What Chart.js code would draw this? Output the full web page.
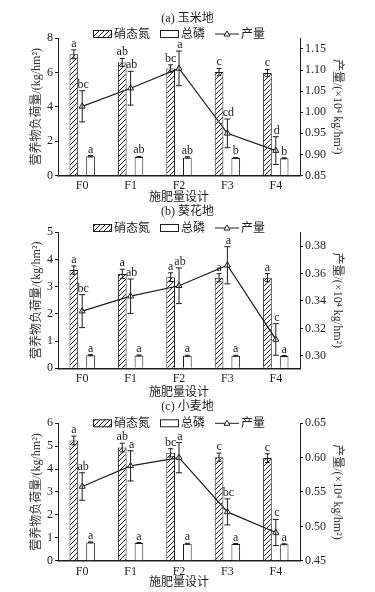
<!DOCTYPE html>
<html><head><meta charset="utf-8">
<script src="https://cdn.jsdelivr.net/npm/chart.js@4.4.1/dist/chart.umd.min.js"></script>
<style>
html,body{margin:0;padding:0;background:#fff;width:375px;height:592px;overflow:hidden;position:relative}
canvas{position:absolute;left:0}
</style></head><body>
<canvas id="ca" width="375" height="205" style="top:0px"></canvas>
<canvas id="cb" width="375" height="205" style="top:195px"></canvas>
<canvas id="cc" width="375" height="202" style="top:390px"></canvas>
<script>
// ---------- shared labels ----------
const categories = ['F0','F1','F2','F3','F4'];
const seriesNames = ['硝态氮','总磷','产量'];
const xTitle = '施肥量设计';
const leftTitle = '营养物负荷量/(kg/hm²)';
const rightTitle = '产量/(×10⁴ kg/hm²)';

// ---------- (a) 玉米地 ----------
const titleA = '(a) 玉米地';
const nitrateA = [7.05, 6.58, 6.23, 6.02, 5.96];
const nitrateErrA = [0.26, 0.23, 0.21, 0.21, 0.21];
const phosA = [1.12, 1.08, 1.05, 1.02, 1.00];
const phosErrA = [0.04, 0.03, 0.04, 0.03, 0.03];
const yieldA = [1.014, 1.057, 1.104, 0.950, 0.909];
const yieldErrA = [0.037, 0.040, 0.041, 0.034, 0.033];
const nitrateSigA = ['a','ab','bc','c','c'];
const phosSigA = ['a','ab','ab','b','b'];
const yieldSigA = ['bc','ab','a','cd','d'];
const leftTicksA = [0,1,2,3,4,5,6,7,8];
const rightTicksA = [0.85,0.90,0.95,1.00,1.05,1.10,1.15];

// ---------- (b) 葵花地 ----------
const titleB = '(b) 葵花地';
const nitrateB = [3.61, 3.47, 3.35, 3.33, 3.33];
const nitrateErrB = [0.15, 0.17, 0.16, 0.15, 0.15];
const phosB = [0.48, 0.47, 0.46, 0.46, 0.45];
const phosErrB = [0.02, 0.02, 0.02, 0.02, 0.02];
const yieldB = [0.3326, 0.3435, 0.3511, 0.3660, 0.3120];
const yieldErrB = [0.0120, 0.0125, 0.0130, 0.0135, 0.0115];
const nitrateSigB = ['a','a','a','a','a'];
const phosSigB = ['a','a','a','a','a'];
const yieldSigB = ['bc','ab','ab','a','c'];
const leftTicksB = [0,1,2,3,4,5];
const rightTicksB = [0.30,0.32,0.34,0.36,0.38];

// ---------- (c) 小麦地 ----------
const titleC = '(c) 小麦地';
const nitrateC = [5.25, 4.94, 4.71, 4.52, 4.48];
const nitrateErrC = [0.19, 0.19, 0.18, 0.18, 0.19];
const phosC = [0.80, 0.77, 0.74, 0.73, 0.72];
const phosErrC = [0.02, 0.02, 0.02, 0.02, 0.02];
const yieldC = [0.558, 0.588, 0.600, 0.521, 0.491];
const yieldErrC = [0.020, 0.022, 0.022, 0.019, 0.019];
const nitrateSigC = ['a','ab','bc','c','c'];
const phosSigC = ['a','a','a','a','a'];
const yieldSigC = ['ab','a','a','bc','c'];
const leftTicksC = [0,1,2,3,4,5,6];
const rightTicksC = [0.45,0.50,0.55,0.60,0.65];

// ---------- styling ----------
const INK = '#1e1e1e';
const FONT = '"Liberation Serif", "Noto Sans CJK SC", serif';
Chart.defaults.font.family = FONT;
Chart.defaults.font.size = 12;
Chart.defaults.color = INK;

function makeHatch(){
  const c = document.createElement('canvas');
  c.width = 5; c.height = 5;
  const g = c.getContext('2d');
  g.fillStyle = '#fff'; g.fillRect(0,0,5,5);
  g.strokeStyle = '#222'; g.lineWidth = 1;
  g.beginPath();
  g.moveTo(-1,6); g.lineTo(6,-1);
  g.moveTo(-1,1); g.lineTo(1,-1);
  g.moveTo(4,6); g.lineTo(6,4);
  g.stroke();
  return g.createPattern(c,'repeat');
}

function extras(d, L){
  return {
    id: 'extras',
    afterDatasetsDraw(chart){
      const ctx = chart.ctx, yL = chart.scales.y, yR = chart.scales.y1;
      const mN = chart.getDatasetMeta(0), mP = chart.getDatasetMeta(1), mY = chart.getDatasetMeta(2);
      ctx.save();
      ctx.strokeStyle = INK; ctx.lineWidth = 1;
      function eb(x, v, e, sc, cap){
        const t = sc.getPixelForValue(v + e), b = sc.getPixelForValue(v - e);
        ctx.beginPath();
        ctx.moveTo(x, t); ctx.lineTo(x, b);
        ctx.moveTo(x - cap, t); ctx.lineTo(x + cap, t);
        ctx.moveTo(x - cap, b); ctx.lineTo(x + cap, b);
        ctx.stroke();
        return t;
      }
      ctx.font = '12px ' + FONT;
      ctx.fillStyle = INK; ctx.textAlign = 'center'; ctx.textBaseline = 'alphabetic';
      d.nitrate.forEach((v,i)=>{
        const x = mN.data[i].x; const t = eb(x, v, d.nitrateErr[i], yL, 2.5);
        ctx.fillText(d.nitrateSig[i], x, t - 3);
      });
      d.phos.forEach((v,i)=>{
        const x = mP.data[i].x; const t = eb(x, v, d.phosErr[i], yL, 2.5);
        ctx.fillText(d.phosSig[i], x, t - 3);
      });
      d.yield.forEach((v,i)=>{
        const x = mY.data[i].x; const t = eb(x, v, d.yieldErr[i], yR, 3);
        ctx.fillText(d.yieldSig[i], x + 1, t - 3);
      });
      ctx.restore();
    },
    afterDraw(chart){
      const ctx = chart.ctx, ca = chart.chartArea;
      ctx.save();
      ctx.font = '12px ' + FONT;
      ctx.textBaseline = 'middle'; ctx.textAlign = 'left';
      const w = seriesNames.map(s => ctx.measureText(s).width);
      const sw = 19, sh = 8, gT = 2, gI = 10, lw = 24;
      const total = sw + gT + w[0] + gI + sw + gT + w[1] + gI + lw + gT + w[2];
      let x = (ca.left + ca.right)/2 - total/2;
      const y = L.legendY;
      ctx.strokeStyle = INK; ctx.lineWidth = 1; ctx.fillStyle = hatch;
      ctx.fillRect(x, y - sh/2, sw, sh); ctx.strokeRect(x + 0.5, y - sh/2 + 0.5, sw - 1, sh - 1);
      x += sw + gT; ctx.fillStyle = INK; ctx.fillText(seriesNames[0], x, y + 1); x += w[0] + gI;
      ctx.fillStyle = '#fff'; ctx.fillRect(x, y - sh/2, sw, sh); ctx.strokeRect(x + 0.5, y - sh/2 + 0.5, sw - 1, sh - 1);
      x += sw + gT; ctx.fillStyle = INK; ctx.fillText(seriesNames[1], x, y + 1); x += w[1] + gI;
      ctx.beginPath(); ctx.moveTo(x, y); ctx.lineTo(x + lw, y); ctx.stroke();
      const tx = x + lw/2;
      ctx.beginPath(); ctx.moveTo(tx, y - 3); ctx.lineTo(tx + 3, y + 2); ctx.lineTo(tx - 3, y + 2); ctx.closePath();
      ctx.fillStyle = '#fff'; ctx.fill(); ctx.stroke();
      x += lw + gT; ctx.fillStyle = INK; ctx.fillText(seriesNames[2], x, y + 1);
      ctx.restore();
    }
  };
}

const hatch = makeHatch();

function makePanel(id, d, L){
  new Chart(document.getElementById(id), {
    type: 'bar',
    data: {
      labels: categories,
      datasets: [
        {type:'bar', label: seriesNames[0], data: d.nitrate, yAxisID:'y', backgroundColor: hatch, borderColor: INK, borderWidth: 1, order: 2,
         categoryPercentage: 0.69, barPercentage: 0.52},
        {type:'bar', label: seriesNames[1], data: d.phos, yAxisID:'y', backgroundColor: '#fff', borderColor: INK, borderWidth: 1, order: 2,
         categoryPercentage: 0.69, barPercentage: 0.52},
        {type:'line', label: seriesNames[2], data: d.yield, yAxisID:'y1', borderColor: INK, borderWidth: 1.2,
         pointStyle:'triangle', pointRadius: 3.5, pointBackgroundColor:'#fff', pointBorderColor: INK, pointBorderWidth: 1, order: 1}
      ]
    },
    options: {
      responsive: false, animation: false,
      layout: {padding: {top: L.padTop, left: 0, right: 0, bottom: 0}},
      plugins: {
        legend: {display: false}, tooltip: {enabled: false},
        title: {display: true, text: d.title, color: INK, font: {size: 12, weight: 'normal'}, padding: {top: 0, bottom: L.titleGap}}
      },
      scales: {
        x: {
          grid: {display: true, drawOnChartArea: false, drawTicks: false},
          border: {display: true, color: INK, width: 1.5},
          ticks: {color: INK, font: {size: 12}, padding: L.xTickPad},
          title: {display: true, text: xTitle, color: INK, font: {size: 12}, padding: {top: 0, bottom: L.xTitlePad}},
          afterFit(s){ s.height = L.xHeight; }
        },
        y: {
          position: 'left', min: 0, max: d.leftTicks[d.leftTicks.length-1],
          afterBuildTicks(s){ s.ticks = d.leftTicks.map(v => ({value: v})); },
          ticks: {color: INK, font: {size: 12}, padding: 2, callback: v => String(v)},
          grid: {drawOnChartArea: false, drawTicks: true, tickLength: 3, color: INK},
          border: {display: true, color: INK, width: 1},
          title: {display: true, text: leftTitle, color: '#333', font: {size: 12}, padding: {top: 29.5, bottom: 0}},
          afterFit(s){ s.width = 58; }
        },
        y1: {
          position: 'right', min: d.rightMin, max: d.rightMax,
          afterBuildTicks(s){ s.ticks = d.rightTicks.map(v => ({value: v})); },
          ticks: {color: INK, font: {size: 12}, padding: 2, callback: v => Number(v).toFixed(2)},
          grid: {drawOnChartArea: false, drawTicks: true, tickLength: 3, color: INK},
          border: {display: true, color: INK, width: 1},
          title: {display: true, text: rightTitle, color: '#333', font: {size: 12}, padding: {top: 30.8, bottom: 0}},
          afterFit(s){ s.width = 75; }
        }
      }
    },
    plugins: [extras(d, L)]
  });
}

makePanel('ca', {title: titleA, nitrate: nitrateA, nitrateErr: nitrateErrA, phos: phosA, phosErr: phosErrA,
  yield: yieldA, yieldErr: yieldErrA, nitrateSig: nitrateSigA, phosSig: phosSigA, yieldSig: yieldSigA,
  leftTicks: leftTicksA, rightTicks: rightTicksA, rightMin: 0.85, rightMax: 1.176},
  {padTop: 11.8, titleGap: 11.8, legendY: 34, xHeight: 29.5, xTickPad: 3, xTitlePad: 0.3});

makePanel('cb', {title: titleB, nitrate: nitrateB, nitrateErr: nitrateErrB, phos: phosB, phosErr: phosErrB,
  yield: yieldB, yieldErr: yieldErrB, nitrateSig: nitrateSigB, phosSig: phosSigB, yieldSig: yieldSigB,
  leftTicks: leftTicksB, rightTicks: rightTicksB, rightMin: 0.291, rightMax: 0.390},
  {padTop: 9.5, titleGap: 13.4, legendY: 33, xHeight: 31.7, xTickPad: 3, xTitlePad: 0.1});

makePanel('cc', {title: titleC, nitrate: nitrateC, nitrateErr: nitrateErrC, phos: phosC, phosErr: phosErrC,
  yield: yieldC, yieldErr: yieldErrC, nitrateSig: nitrateSigC, phosSig: phosSigC, yieldSig: yieldSigC,
  leftTicks: leftTicksC, rightTicks: rightTicksC, rightMin: 0.45, rightMax: 0.65},
  {padTop: 9.5, titleGap: 9.4, legendY: 33.3, xHeight: 31.3, xTickPad: 4, xTitlePad: 2.1});
</script></body></html>
